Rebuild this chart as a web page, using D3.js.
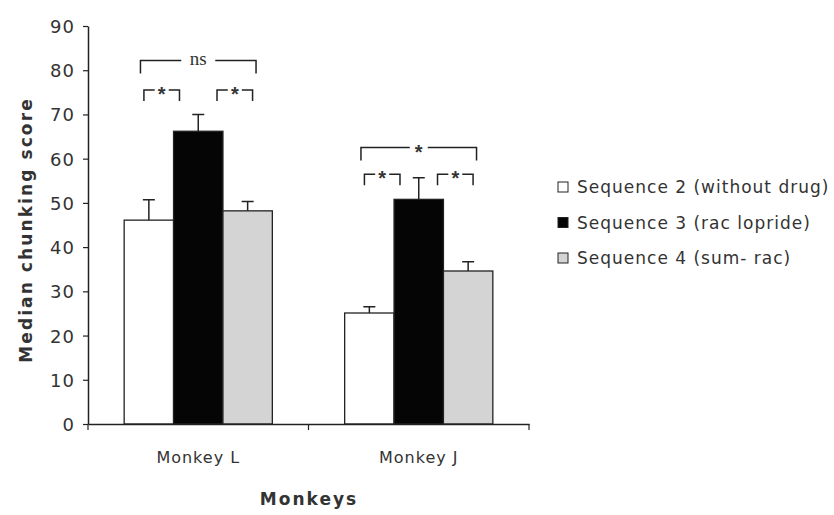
<!DOCTYPE html>
<html>
<head>
<meta charset="utf-8">
<script src="https://cdn.jsdelivr.net/npm/d3@7"></script>
<style>
  body { margin: 0; background: #fff; }
  svg text { font-family: 'DejaVu Sans', sans-serif; fill: #333; }
</style>
</head>
<body>
<svg id="chart" width="834" height="515"></svg>
<script>
const monkeys = ['Monkey L', 'Monkey J']
const sequences = ['Sequence 2 (without drug)', 'Sequence 3 (rac lopride)', 'Sequence 4 (sum- rac)']
const colors = ['#ffffff', '#050505', '#d4d4d4']
const medians = [
  [46.1, 66.2, 48.2],
  [25.1, 50.8, 34.6]
]
const errors = [
  [4.6, 3.8, 2.1],
  [1.4, 4.9, 2.1]
]
// significance marks: [monkey, from bar, to bar, label, level]
const sigs = [
  [0, 0, 2, 'ns', 82.2],
  [0, 0, 1, '*', 75.5],
  [0, 1, 2, '*', 75.5],
  [1, 0, 2, '*', 62.5],
  [1, 0, 1, '*', 56.5],
  [1, 1, 2, '*', 56.5]
]
const yTicks = d3.range(0, 91, 10)

let svg = d3.select('#chart')
let margin = {left: 88, top: 26, right: 305, bottom: 91}
let width = 834 - margin.left - margin.right
let height = 515 - margin.top - margin.bottom

let g = svg.append('g').attr('transform', 'translate(' + [margin.left, margin.top].join(',') + ')')

let x = d3.scaleBand().domain(monkeys).range([0, width])
let y = d3.scaleLinear().domain([0, 90]).range([height, 0])
let inner = d3.scaleBand().domain([0, 1, 2]).range([0, x.bandwidth() * 0.672])
let groupOffset = (x.bandwidth() - inner.range()[1]) / 2
let bw = inner.bandwidth()

// axes
let yAxis = g.append('g')
  .call(d3.axisLeft(y).tickValues(yTicks).tickSize(5).tickSizeOuter(0))
yAxis.select('.domain').attr('stroke', '#222').attr('stroke-width', 1.5)
yAxis.selectAll('.tick line').attr('stroke', '#222').attr('stroke-width', 1.2)
yAxis.selectAll('.tick text').attr('x', -13).attr('dy', '0.36em')
  .style('font-size', '18px').style('letter-spacing', '1px').attr('fill', '#333')

let groups = g.selectAll('.grp')
  .data(monkeys)
  .enter().append('g')
  .attr('class', 'grp')
  .attr('transform', d => 'translate(' + (x(d) + groupOffset) + ',0)')

groups.each(function(m, mi) {
  let grp = d3.select(this)
  let rows = medians[mi].map((v, i) => ({v: v, e: errors[mi][i], i: i}))
  // error bars (upper only)
  grp.selectAll('.err').data(rows).enter().append('path')
    .attr('d', d => {
      let cx = inner(d.i) + bw / 2
      return 'M' + cx + ',' + y(d.v) + 'V' + y(d.v + d.e) + 'M' + (cx - 6) + ',' + y(d.v + d.e) + 'H' + (cx + 6)
    })
    .attr('stroke', '#222').attr('stroke-width', 1.5).attr('fill', 'none')
  grp.selectAll('rect').data(rows).enter().append('rect')
    .attr('x', d => inner(d.i))
    .attr('y', d => y(d.v))
    .attr('width', bw)
    .attr('height', d => y(0) - y(d.v))
    .attr('fill', d => colors[d.i])
    .attr('stroke', '#222')
    .attr('stroke-width', 1.3)
})

let xAxis = g.append('g')
  .attr('transform', 'translate(0,' + height + ')')
  .call(d3.axisBottom(x).tickSize(0).tickSizeOuter(0))
xAxis.select('.domain').attr('stroke', '#222').attr('stroke-width', 1.5)
xAxis.selectAll('.tick text').attr('dy', 0).attr('y', 39)
  .style('font-size', '16px').style('letter-spacing', '1px').attr('fill', '#333')
// ticks between categories
g.append('g').selectAll('line')
  .data([0, x.bandwidth(), width])
  .enter().append('line')
  .attr('x1', d => d).attr('x2', d => d)
  .attr('y1', height).attr('y2', height + 6)
  .attr('stroke', '#222').attr('stroke-width', 1.2)

// significance brackets
sigs.forEach(function(s) {
  let base = x(monkeys[s[0]]) + groupOffset
  let wide = s[2] - s[1] > 1
  let x1, x2
  if (wide) {
    x1 = base + inner(s[1]) + bw * 0.33
    x2 = base + inner(s[2]) + bw * 0.67
  } else if (s[1] === 0) {
    x1 = base + inner(0) + bw * 0.4
    x2 = base + inner(1) + bw * 0.12
  } else {
    x1 = base + inner(1) + bw * 0.88
    x2 = base + inner(2) + bw * 0.6
  }
  let yy = y(s[4])
  let drop = wide ? 13 : 11
  let mid = (x1 + x2) / 2
  let gap = s[3] === 'ns' ? 17 : (wide ? 9 : 7)
  let br = g.append('g')
  br.append('path')
    .attr('d', 'M' + x1 + ',' + (yy + drop) + 'V' + yy + 'H' + (mid - gap) +
      'M' + (mid + gap) + ',' + yy + 'H' + x2 + 'V' + (yy + drop))
    .attr('stroke', '#222').attr('stroke-width', 1.5).attr('fill', 'none')
  br.append('text')
    .attr('x', mid).attr('y', s[3] === 'ns' ? yy + 5 : yy + 11)
    .attr('text-anchor', 'middle')
    .style('font-size', s[3] === 'ns' ? '19px' : '20px')
    .style('font-family', s[3] === 'ns' ? "'Liberation Serif', serif" : "'Liberation Sans', sans-serif")
    .style('font-weight', s[3] === 'ns' ? 'normal' : 'bold')
    .attr('fill', '#222')
    .text(s[3])
})

// axis titles
svg.append('text')
  .attr('transform', 'translate(32,230) rotate(-90)')
  .attr('text-anchor', 'middle')
  .style('font-size', '17px').style('font-weight', 'bold').style('letter-spacing', '2.1px').attr('fill', '#222')
  .text('Median chunking score')
svg.append('text')
  .attr('x', 309).attr('y', 505)
  .attr('text-anchor', 'middle')
  .style('font-size', '17px').style('font-weight', 'bold').style('letter-spacing', '2px').attr('fill', '#222')
  .text('Monkeys')

// legend
let legend = svg.append('g').attr('transform', 'translate(558,182)')
let items = legend.selectAll('g').data(sequences).enter().append('g')
  .attr('transform', (d, i) => 'translate(0,' + i * 35.5 + ')')
items.append('rect')
  .attr('width', 10).attr('height', 10)
  .attr('fill', (d, i) => colors[i])
  .attr('stroke', '#222').attr('stroke-width', 1)
items.append('text')
  .attr('x', 19).attr('y', 11)
  .style('font-size', '17px').style('letter-spacing', '1px').attr('fill', '#333')
  .text(d => d)
</script>
</body>
</html>
